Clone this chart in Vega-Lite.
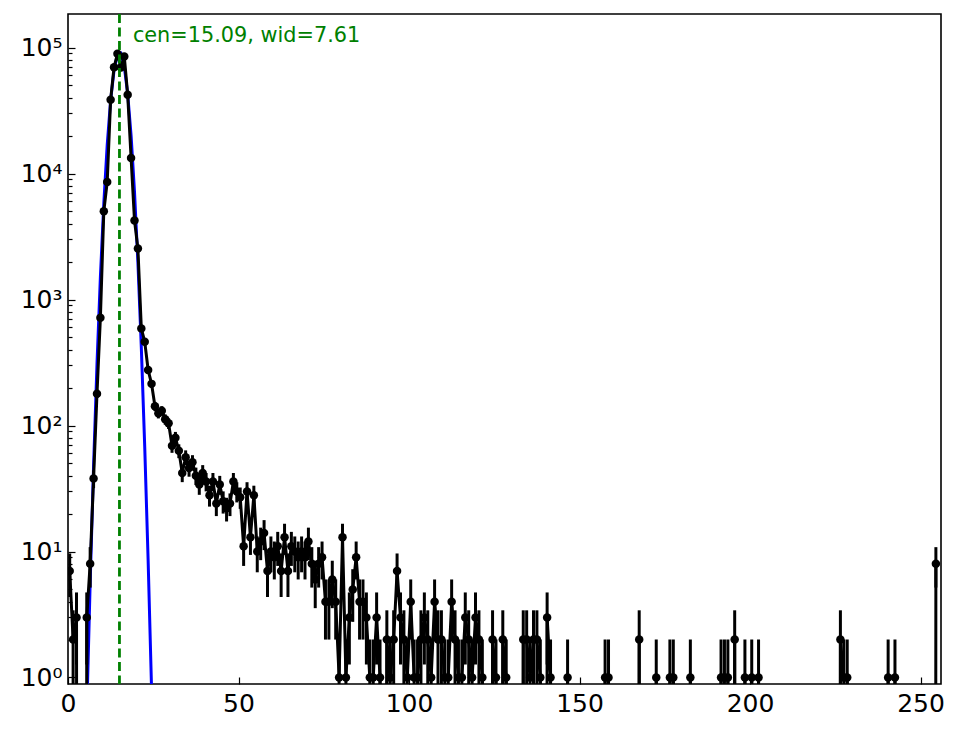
{
  "$schema": "https://vega.github.io/schema/vega-lite/v6.json",
  "width": 873,
  "height": 670,
  "autosize": {"type": "none"},
  "padding": {"left": 68, "top": 14, "right": 23, "bottom": 45},
  "background": "white",
  "config": {
    "view": {"stroke": "black", "strokeWidth": 1.6},
    "font": "DejaVu Sans",
    "axis": {"labelFont": "DejaVu Sans", "labelFontSize": 25, "labelColor": "black", "tickColor": "black", "tickWidth": 1.2, "domain": false, "grid": false}
  },
  "datasets": {
    "hist": [
      {"x":0.5,"n":7,"lo":4.354,"hi":9.646},{"x":1.5,"n":2,"lo":0.586,"hi":3.414},{"x":2.5,"n":3,"lo":1.268,"hi":4.732},{"x":3.5,"n":0},{"x":4.5,"n":0},
      {"x":5.5,"n":3,"lo":1.268,"hi":4.732},{"x":6.5,"n":8,"lo":5.172,"hi":10.828},{"x":7.5,"n":38,"lo":31.84,"hi":44.16},{"x":8.5,"n":179,"lo":165.6,"hi":192.4},{"x":9.5,"n":716,"lo":689.2,"hi":742.8},
      {"x":10.5,"n":5020,"lo":4949,"hi":5091},{"x":11.5,"n":8570,"lo":8477,"hi":8663},{"x":12.5,"n":38500,"lo":38304,"hi":38696},{"x":13.5,"n":69800,"lo":69536,"hi":70064},{"x":14.5,"n":89100,"lo":88802,"hi":89399},
      {"x":15.5,"n":69400,"lo":69137,"hi":69663},{"x":16.5,"n":84900,"lo":84609,"hi":85191},{"x":17.5,"n":42200,"lo":41995,"hi":42405},{"x":18.5,"n":13300,"lo":13185,"hi":13415},{"x":19.5,"n":4240,"lo":4175,"hi":4305},
      {"x":20.5,"n":2540,"lo":2490,"hi":2590},{"x":21.5,"n":590,"lo":565.7,"hi":614.3},{"x":22.5,"n":462,"lo":440.5,"hi":483.5},{"x":23.5,"n":276,"lo":259.4,"hi":292.6},{"x":24.5,"n":214,"lo":199.4,"hi":228.6},
      {"x":25.5,"n":142,"lo":130.1,"hi":153.9},{"x":26.5,"n":125,"lo":113.8,"hi":136.2},{"x":27.5,"n":131,"lo":119.6,"hi":142.4},{"x":28.5,"n":112,"lo":101.4,"hi":122.6},{"x":29.5,"n":104,"lo":93.8,"hi":114.2},
      {"x":30.5,"n":69,"lo":60.69,"hi":77.31},{"x":31.5,"n":80,"lo":71.06,"hi":88.94},{"x":32.5,"n":63,"lo":55.06,"hi":70.94},{"x":33.5,"n":42,"lo":35.52,"hi":48.48},{"x":34.5,"n":56,"lo":48.52,"hi":63.48},
      {"x":35.5,"n":46,"lo":39.22,"hi":52.78},{"x":36.5,"n":51,"lo":43.86,"hi":58.14},{"x":37.5,"n":40,"lo":33.68,"hi":46.32},{"x":38.5,"n":34,"lo":28.17,"hi":39.83},{"x":39.5,"n":42,"lo":35.52,"hi":48.48},
      {"x":40.5,"n":36,"lo":30,"hi":42},{"x":41.5,"n":28,"lo":22.71,"hi":33.29},{"x":42.5,"n":36,"lo":30,"hi":42},{"x":43.5,"n":24,"lo":19.1,"hi":28.9},{"x":44.5,"n":34,"lo":28.17,"hi":39.83},
      {"x":45.5,"n":25,"lo":20,"hi":30},{"x":46.5,"n":22,"lo":17.31,"hi":26.69},{"x":47.5,"n":24,"lo":19.1,"hi":28.9},{"x":48.5,"n":36,"lo":30,"hi":42},{"x":49.5,"n":30,"lo":24.52,"hi":35.48},
      {"x":50.5,"n":27,"lo":21.8,"hi":32.2},{"x":51.5,"n":11,"lo":7.683,"hi":14.317},{"x":52.5,"n":30,"lo":24.52,"hi":35.48},{"x":53.5,"n":13,"lo":9.394,"hi":16.606},{"x":54.5,"n":28,"lo":22.71,"hi":33.29},
      {"x":55.5,"n":10,"lo":6.838,"hi":13.162},{"x":56.5,"n":12,"lo":8.536,"hi":15.464},{"x":57.5,"n":14,"lo":10.258,"hi":17.742},{"x":58.5,"n":7,"lo":4.354,"hi":9.646},{"x":59.5,"n":10,"lo":6.838,"hi":13.162},
      {"x":60.5,"n":9,"lo":6,"hi":12},{"x":61.5,"n":11,"lo":7.683,"hi":14.317},{"x":62.5,"n":7,"lo":4.354,"hi":9.646},{"x":63.5,"n":13,"lo":9.394,"hi":16.606},{"x":64.5,"n":7,"lo":4.354,"hi":9.646},
      {"x":65.5,"n":11,"lo":7.683,"hi":14.317},{"x":66.5,"n":10,"lo":6.838,"hi":13.162},{"x":67.5,"n":9,"lo":6,"hi":12},{"x":68.5,"n":10,"lo":6.838,"hi":13.162},{"x":69.5,"n":9,"lo":6,"hi":12},
      {"x":70.5,"n":12,"lo":8.536,"hi":15.464},{"x":71.5,"n":8,"lo":5.172,"hi":10.828},{"x":72.5,"n":6,"lo":3.551,"hi":8.449},{"x":73.5,"n":8,"lo":5.172,"hi":10.828},{"x":74.5,"n":9,"lo":6,"hi":12},
      {"x":75.5,"n":4,"lo":2,"hi":6},{"x":76.5,"n":4,"lo":2,"hi":6},{"x":77.5,"n":6,"lo":3.551,"hi":8.449},{"x":78.5,"n":4,"lo":2,"hi":6},{"x":79.5,"n":1,"lo":0,"hi":2},
      {"x":80.5,"n":13,"lo":9.394,"hi":16.606},{"x":81.5,"n":1,"lo":0,"hi":2},{"x":82.5,"n":3,"lo":1.268,"hi":4.732},{"x":83.5,"n":5,"lo":2.764,"hi":7.236},{"x":84.5,"n":9,"lo":6,"hi":12},
      {"x":85.5,"n":4,"lo":2,"hi":6},{"x":86.5,"n":4,"lo":2,"hi":6},{"x":87.5,"n":3,"lo":1.268,"hi":4.732},{"x":88.5,"n":1,"lo":0,"hi":2},{"x":89.5,"n":1,"lo":0,"hi":2},
      {"x":90.5,"n":3,"lo":1.268,"hi":4.732},{"x":91.5,"n":1,"lo":0,"hi":2},{"x":92.5,"n":0},{"x":93.5,"n":2,"lo":0.586,"hi":3.414},{"x":94.5,"n":1,"lo":0,"hi":2},
      {"x":95.5,"n":2,"lo":0.586,"hi":3.414},{"x":96.5,"n":7,"lo":4.354,"hi":9.646},{"x":97.5,"n":3,"lo":1.268,"hi":4.732},{"x":98.5,"n":2,"lo":0.586,"hi":3.414},{"x":99.5,"n":1,"lo":0,"hi":2},
      {"x":100.5,"n":4,"lo":2,"hi":6},{"x":101.5,"n":1,"lo":0,"hi":2},{"x":102.5,"n":1,"lo":0,"hi":2},{"x":103.5,"n":2,"lo":0.586,"hi":3.414},{"x":104.5,"n":3,"lo":1.268,"hi":4.732},
      {"x":105.5,"n":2,"lo":0.586,"hi":3.414},{"x":106.5,"n":1,"lo":0,"hi":2},{"x":107.5,"n":4,"lo":2,"hi":6},{"x":108.5,"n":2,"lo":0.586,"hi":3.414},{"x":109.5,"n":2,"lo":0.586,"hi":3.414},
      {"x":110.5,"n":1,"lo":0,"hi":2},{"x":111.5,"n":1,"lo":0,"hi":2},{"x":112.5,"n":4,"lo":2,"hi":6},{"x":113.5,"n":2,"lo":0.586,"hi":3.414},{"x":114.5,"n":1,"lo":0,"hi":2},
      {"x":115.5,"n":1,"lo":0,"hi":2},{"x":116.5,"n":3,"lo":1.268,"hi":4.732},{"x":117.5,"n":2,"lo":0.586,"hi":3.414},{"x":118.5,"n":1,"lo":0,"hi":2},{"x":119.5,"n":3,"lo":1.268,"hi":4.732},
      {"x":120.5,"n":2,"lo":0.586,"hi":3.414},{"x":121.5,"n":1,"lo":0,"hi":2},{"x":122.5,"n":0},{"x":123.5,"n":0},{"x":124.5,"n":2,"lo":0.586,"hi":3.414},
      {"x":125.5,"n":1,"lo":0,"hi":2},{"x":126.5,"n":0},{"x":127.5,"n":2,"lo":0.586,"hi":3.414},{"x":128.5,"n":1,"lo":0,"hi":2},{"x":129.5,"n":0},
      {"x":130.5,"n":0},{"x":131.5,"n":0},{"x":132.5,"n":0},{"x":133.5,"n":2,"lo":0.586,"hi":3.414},{"x":134.5,"n":2,"lo":0.586,"hi":3.414},
      {"x":135.5,"n":1,"lo":0,"hi":2},{"x":136.5,"n":2,"lo":0.586,"hi":3.414},{"x":137.5,"n":2,"lo":0.586,"hi":3.414},{"x":138.5,"n":1,"lo":0,"hi":2},{"x":139.5,"n":0},
      {"x":140.5,"n":3,"lo":1.268,"hi":4.732},{"x":141.5,"n":1,"lo":0,"hi":2},{"x":142.5,"n":0},{"x":143.5,"n":0},{"x":144.5,"n":0},
      {"x":145.5,"n":0},{"x":146.5,"n":1,"lo":0,"hi":2},{"x":147.5,"n":0},{"x":148.5,"n":0},{"x":149.5,"n":0},
      {"x":150.5,"n":0},{"x":151.5,"n":0},{"x":152.5,"n":0},{"x":153.5,"n":0},{"x":154.5,"n":0},
      {"x":155.5,"n":0},{"x":156.5,"n":0},{"x":157.5,"n":1,"lo":0,"hi":2},{"x":158.5,"n":1,"lo":0,"hi":2},{"x":159.5,"n":0},
      {"x":160.5,"n":0},{"x":161.5,"n":0},{"x":162.5,"n":0},{"x":163.5,"n":0},{"x":164.5,"n":0},
      {"x":165.5,"n":0},{"x":166.5,"n":0},{"x":167.5,"n":2,"lo":0.586,"hi":3.414},{"x":168.5,"n":0},{"x":169.5,"n":0},
      {"x":170.5,"n":0},{"x":171.5,"n":0},{"x":172.5,"n":1,"lo":0,"hi":2},{"x":173.5,"n":0},{"x":174.5,"n":0},
      {"x":175.5,"n":0},{"x":176.5,"n":1,"lo":0,"hi":2},{"x":177.5,"n":1,"lo":0,"hi":2},{"x":178.5,"n":0},{"x":179.5,"n":0},
      {"x":180.5,"n":0},{"x":181.5,"n":0},{"x":182.5,"n":1,"lo":0,"hi":2},{"x":183.5,"n":0},{"x":184.5,"n":0},
      {"x":185.5,"n":0},{"x":186.5,"n":0},{"x":187.5,"n":0},{"x":188.5,"n":0},{"x":189.5,"n":0},
      {"x":190.5,"n":0},{"x":191.5,"n":1,"lo":0,"hi":2},{"x":192.5,"n":1,"lo":0,"hi":2},{"x":193.5,"n":1,"lo":0,"hi":2},{"x":194.5,"n":0},
      {"x":195.5,"n":2,"lo":0.586,"hi":3.414},{"x":196.5,"n":0},{"x":197.5,"n":0},{"x":198.5,"n":1,"lo":0,"hi":2},{"x":199.5,"n":0},
      {"x":200.5,"n":1,"lo":0,"hi":2},{"x":201.5,"n":0},{"x":202.5,"n":1,"lo":0,"hi":2},{"x":203.5,"n":0},{"x":204.5,"n":0},
      {"x":205.5,"n":0},{"x":206.5,"n":0},{"x":207.5,"n":0},{"x":208.5,"n":0},{"x":209.5,"n":0},
      {"x":210.5,"n":0},{"x":211.5,"n":0},{"x":212.5,"n":0},{"x":213.5,"n":0},{"x":214.5,"n":0},
      {"x":215.5,"n":0},{"x":216.5,"n":0},{"x":217.5,"n":0},{"x":218.5,"n":0},{"x":219.5,"n":0},
      {"x":220.5,"n":0},{"x":221.5,"n":0},{"x":222.5,"n":0},{"x":223.5,"n":0},{"x":224.5,"n":0},
      {"x":225.5,"n":0},{"x":226.5,"n":2,"lo":0.586,"hi":3.414},{"x":227.5,"n":1,"lo":0,"hi":2},{"x":228.5,"n":1,"lo":0,"hi":2},{"x":229.5,"n":0},
      {"x":230.5,"n":0},{"x":231.5,"n":0},{"x":232.5,"n":0},{"x":233.5,"n":0},{"x":234.5,"n":0},
      {"x":235.5,"n":0},{"x":236.5,"n":0},{"x":237.5,"n":0},{"x":238.5,"n":0},{"x":239.5,"n":0},
      {"x":240.5,"n":1,"lo":0,"hi":2},{"x":241.5,"n":0},{"x":242.5,"n":1,"lo":0,"hi":2},{"x":243.5,"n":0},{"x":244.5,"n":0},
      {"x":245.5,"n":0},{"x":246.5,"n":0},{"x":247.5,"n":0},{"x":248.5,"n":0},{"x":249.5,"n":0},
      {"x":250.5,"n":0},{"x":251.5,"n":0},{"x":252.5,"n":0},{"x":253.5,"n":0},{"x":254.5,"n":8,"lo":5.172,"hi":10.828}
    ],
    "fit": [
      {"x":4.5,"n":0.0279},{"x":5.5,"n":0.519},{"x":6.5,"n":5.66},{"x":7.5,"n":47.5},{"x":8.5,"n":305.9},{"x":9.5,"n":1516},
      {"x":10.5,"n":5773},{"x":11.5,"n":16910},{"x":12.5,"n":38110},{"x":13.5,"n":65990},{"x":14.5,"n":87890},
      {"x":15.5,"n":89990},{"x":16.5,"n":70850},{"x":17.5,"n":42890},{"x":18.5,"n":19960},{"x":19.5,"n":7141},
      {"x":20.5,"n":1966},{"x":21.5,"n":415.9},{"x":22.5,"n":67.7},{"x":23.5,"n":8.45},{"x":24.5,"n":0.813},{"x":25.5,"n":0.0565}
    ]
  },
  "layer": [
    {
      "data": {"name": "fit"},
      "mark": {"type": "line", "color": "#0000ff", "strokeWidth": 3, "clip": true},
      "encoding": {
        "x": {"field": "x", "type": "quantitative", "scale": {"domain": [0, 256], "nice": false, "zero": false},
          "axis": {"title": null, "values": [0, 50, 100, 150, 200, 250], "tickSize": -7, "labelPadding": 14, "labelFlush": false, "labelFontSize": 25, "labelFont": "DejaVu Sans"}},
        "y": {"field": "n", "type": "quantitative", "scale": {"type": "log", "domain": [1e-30, 184500], "range": [4443.4, 0], "nice": false, "clamp": true},
          "axis": {"title": null,
            "values": [1,2,3,4,5,6,7,8,9,10,20,30,40,50,60,70,80,90,100,200,300,400,500,600,700,800,900,1000,2000,3000,4000,5000,6000,7000,8000,9000,10000,20000,30000,40000,50000,60000,70000,80000,90000,100000],
            "tickSize": {"condition": {"test": "indexof([1,10,100,1000,10000,100000], datum.value) >= 0", "value": -7}, "value": -4},
            "labelPadding": 13,
            "labelFlush": false,
            "labelOverlap": false,
            "labelFontSize": 25,
            "labelFont": "DejaVu Sans",
            "labelExpr": "datum.value==1?'10⁰':datum.value==10?'10¹':datum.value==100?'10²':datum.value==1000?'10³':datum.value==10000?'10⁴':datum.value==100000?'10⁵':''"}}
      }
    },
    {
      "data": {"name": "hist"},
      "mark": {"type": "line", "color": "black", "strokeWidth": 3, "clip": true},
      "encoding": {
        "x": {"field": "x", "type": "quantitative"},
        "y": {"field": "n", "type": "quantitative"}
      }
    },
    {
      "data": {"name": "hist"},
      "transform": [{"filter": "datum.n > 0"}],
      "mark": {"type": "rule", "color": "black", "strokeWidth": 3, "clip": true},
      "encoding": {
        "x": {"field": "x", "type": "quantitative"},
        "y": {"field": "hi", "type": "quantitative"},
        "y2": {"field": "lo"}
      }
    },
    {
      "data": {"name": "hist"},
      "transform": [{"filter": "datum.n > 0"}],
      "mark": {"type": "circle", "color": "black", "size": 72, "opacity": 1, "clip": true},
      "encoding": {
        "x": {"field": "x", "type": "quantitative"},
        "y": {"field": "n", "type": "quantitative"}
      }
    },
    {
      "data": {"values": [{}]},
      "mark": {"type": "rule", "color": "#008000", "strokeWidth": 2.8, "strokeDash": [9, 4.5], "y": 0, "y2": 670},
      "encoding": {"x": {"datum": 15.09}}
    },
    {
      "data": {"values": [{}]},
      "mark": {"type": "text", "color": "#008000", "fontSize": 20.8, "font": "DejaVu Sans", "align": "left", "baseline": "middle"},
      "encoding": {"x": {"datum": 19.03}, "y": {"datum": 123300}, "text": {"value": "cen=15.09, wid=7.61"}}
    }
  ]
}
